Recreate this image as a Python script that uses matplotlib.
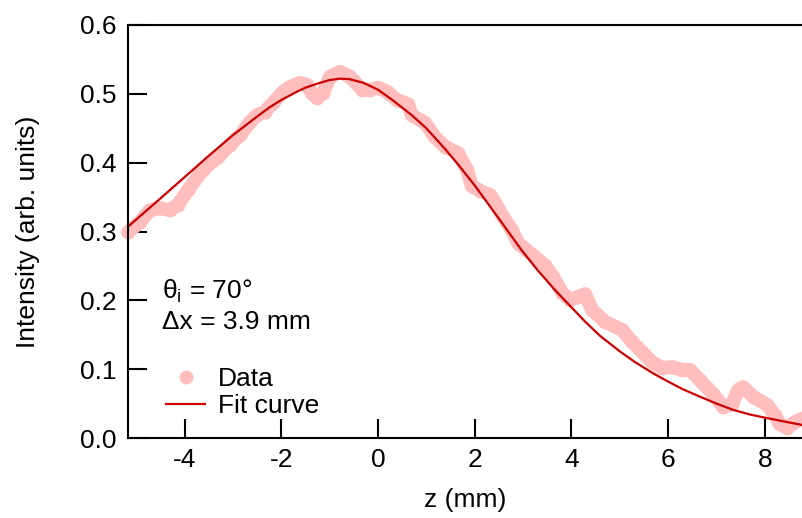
import matplotlib
matplotlib.use("Agg")
import matplotlib.pyplot as plt
from matplotlib.lines import Line2D

plt.rcParams['font.family'] = ['Liberation Sans', 'DejaVu Sans']
plt.rcParams['mathtext.fontset'] = 'custom'
plt.rcParams['mathtext.rm'] = 'Liberation Sans'
plt.rcParams['mathtext.it'] = 'Liberation Sans:italic'

# Measured intensity profile
z_data = [-5.17, -4.92, -4.72, -4.51, -4.30, -4.14, -3.93, -3.62, -3.31, -3.06,
          -2.85, -2.65, -2.50, -2.34, -2.17, -1.96, -1.82, -1.61, -1.47, -1.37,
          -1.26, -1.14, -0.99, -0.79, -0.58, -0.33, -0.17, 0.00, 0.19, 0.39,
          0.62, 0.70, 0.97, 1.18, 1.39, 1.65, 1.84, 1.94, 2.11, 2.32,
          2.42, 2.59, 2.77, 2.90, 3.14, 3.45, 3.62, 3.81, 3.97, 4.14,
          4.28, 4.43, 4.69, 5.05, 5.25, 5.46, 5.67, 5.87, 6.08, 6.29,
          6.45, 6.66, 6.93, 7.14, 7.32, 7.45, 7.55, 7.76, 8.05, 8.21,
          8.31, 8.46, 8.62, 8.77]
i_data = [0.299, 0.314, 0.331, 0.334, 0.331, 0.339, 0.360, 0.390, 0.408, 0.426,
          0.440, 0.459, 0.469, 0.474, 0.487, 0.503, 0.510, 0.516, 0.513, 0.501,
          0.494, 0.501, 0.525, 0.532, 0.525, 0.506, 0.506, 0.509, 0.503, 0.491,
          0.485, 0.469, 0.458, 0.437, 0.423, 0.414, 0.390, 0.366, 0.359, 0.353,
          0.342, 0.321, 0.302, 0.283, 0.269, 0.251, 0.234, 0.211, 0.201, 0.205,
          0.209, 0.186, 0.169, 0.157, 0.140, 0.125, 0.110, 0.102, 0.103, 0.099,
          0.099, 0.084, 0.064, 0.045, 0.049, 0.070, 0.074, 0.060, 0.048, 0.033,
          0.020, 0.015, 0.023, 0.028]

# Fitted curve
z_fit = [-5.17, -4.50, -4.00, -3.50, -3.00, -2.50, -2.23, -2.00, -1.68, -1.50,
         -1.20, -1.00, -0.80, -0.60, -0.30, 0.00, 0.30, 0.70, 1.00, 1.40,
         1.65, 2.00, 2.28, 2.60, 2.98, 3.30, 3.66, 4.00, 4.30, 4.60,
         5.00, 5.30, 5.69, 6.00, 6.30, 6.66, 7.00, 7.34, 7.70, 8.04,
         8.40, 8.77]
i_fit = [0.307, 0.348, 0.379, 0.410, 0.440, 0.467, 0.481, 0.491, 0.503, 0.509,
         0.516, 0.520, 0.522, 0.5215, 0.516, 0.506, 0.491, 0.469, 0.450, 0.419,
         0.398, 0.367, 0.340, 0.309, 0.272, 0.244, 0.215, 0.190, 0.168, 0.148,
         0.126, 0.111, 0.094, 0.082, 0.071, 0.060, 0.050, 0.041, 0.034, 0.029,
         0.024, 0.019]

x_ticks = [-4, -2, 0, 2, 4, 6, 8]
y_ticks = [0.0, 0.1, 0.2, 0.3, 0.4, 0.5, 0.6]

pink = '#FFBDBD'
red = '#CC0000'
fs = 19

fig = plt.figure(figsize=(8.02, 5.18), dpi=100)
ax = fig.add_axes([128 / 802, 1 - 438 / 518, 1 - 128 / 802, 413 / 518])

ax.plot(z_data, i_data, color=pink, lw=10, solid_capstyle='round',
        solid_joinstyle='round', zorder=2, clip_on=False)
ax.plot(z_data, i_data, 'o', color=pink, ms=10, mec='none', zorder=2,
        clip_on=False)
ax.plot(z_fit, i_fit, color=red, lw=1.6, zorder=3)

ax.set_xlim(-5.17, 8.77)
ax.set_ylim(0.0, 0.6)
ax.set_xticks(x_ticks)
ax.set_xticklabels([str(t) for t in x_ticks])
ax.set_yticks(y_ticks)
ax.set_yticklabels([f'{t:.1f}' for t in y_ticks])

ax.spines['right'].set_visible(False)
for s in ('left', 'bottom', 'top'):
    ax.spines[s].set_linewidth(1.5)
    ax.spines[s].set_zorder(4)
ax.tick_params(axis='both', direction='in', length=14, width=1.5,
               labelsize=fs, top=False, right=False)
ax.tick_params(axis='y', pad=8)
ax.tick_params(axis='x', pad=7)

ax.set_xlabel('z (mm)', fontsize=fs, labelpad=12)
ax.set_ylabel('Intensity (arb. units)', fontsize=fs, labelpad=29)

ax.text(0.050, 0.356, r'θ$_{\mathrm{i}}$ = 70°', transform=ax.transAxes,
        fontsize=fs, va='center', ha='left')
ax.text(0.050, 0.281, 'Δx = 3.9 mm', transform=ax.transAxes,
        fontsize=fs, va='center', ha='left')

handles = [Line2D([], [], ls='none', marker='o', color=pink, ms=10, mec='none'),
           Line2D([], [], color=red, lw=1.6)]
ax.legend(handles, ['Data', 'Fit curve'], loc='upper left',
          bbox_to_anchor=(38 / 674, (438 - 367) / 413), frameon=False,
          fontsize=fs, handlelength=1.48, handletextpad=0.5,
          labelspacing=0.13, borderpad=0, borderaxespad=0)

fig.savefig('out.png', dpi=100)
